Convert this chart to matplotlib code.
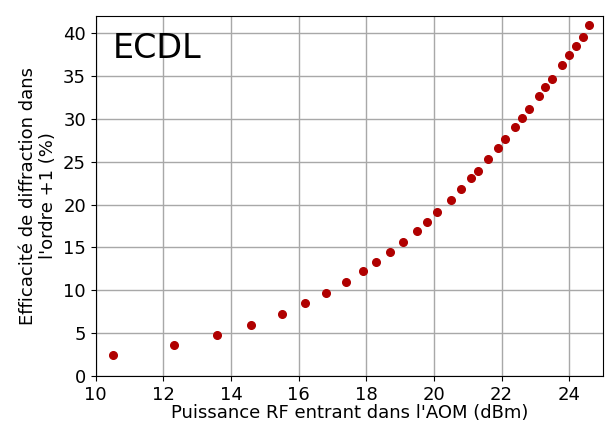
import matplotlib
matplotlib.use("Agg")
import matplotlib.pyplot as plt

# puissance RF (dBm) et efficacite de diffraction (%)
puissance = [10.5, 12.3, 13.6, 14.6, 15.5, 16.2, 16.8, 17.4, 17.9, 18.3,
             18.7, 19.1, 19.5, 19.8, 20.1, 20.5, 20.8, 21.1, 21.3, 21.6,
             21.9, 22.1, 22.4, 22.6, 22.8, 23.1, 23.3, 23.5, 23.8, 24.0,
             24.2, 24.4, 24.6]
efficacite = [2.45, 3.6, 4.8, 5.9, 7.2, 8.5, 9.7, 11.0, 12.2, 13.3,
              14.5, 15.6, 16.9, 18.0, 19.1, 20.5, 21.8, 23.1, 23.9, 25.3,
              26.6, 27.6, 29.1, 30.1, 31.1, 32.7, 33.7, 34.7, 36.3, 37.4,
              38.5, 39.5, 41.0]

fig = plt.figure(figsize=(6.06, 4.21), dpi=100)
ax = fig.add_axes([0.158, 0.107, 0.837, 0.855])
ax.plot(puissance, efficacite, 'o', color='#b00000', markersize=5.5, zorder=3)
ax.set_xlim(10, 25)
ax.set_ylim(0, 42)
ax.set_xticks(range(10, 25, 2))
ax.set_yticks(range(0, 41, 5))
ax.grid(True, color='#a8a8a8', linewidth=1)
ax.tick_params(axis='both', which='major', labelsize=13)
ax.set_xlabel("Puissance RF entrant dans l'AOM (dBm)", fontsize=13, labelpad=0)
ax.set_ylabel("Efficacité de diffraction dans\nl'ordre +1 (%)", fontsize=13)
ax.text(0.033, 0.955, 'ECDL', transform=ax.transAxes, fontsize=24, va='top', ha='left')

fig.savefig("out.png", dpi=100)
